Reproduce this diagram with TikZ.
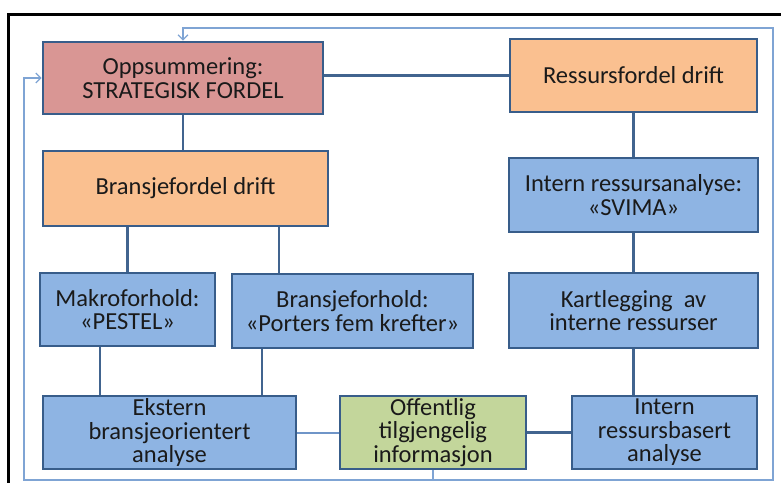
\documentclass[tikz,border=0pt]{standalone}
\usepackage{fontspec}
\setmainfont{Carlito}
\usetikzlibrary{arrows.meta}
\definecolor{boxline}{HTML}{385D8A}
\definecolor{linkline}{HTML}{41648F}
\definecolor{softlink}{HTML}{6F95C8}
\definecolor{loopline}{HTML}{7FA4D4}
\definecolor{redfill}{HTML}{D99694}
\definecolor{orangefill}{HTML}{FAC090}
\definecolor{bluefill}{HTML}{8EB4E3}
\definecolor{greenfill}{HTML}{C3D69B}
\definecolor{txt}{HTML}{1A1A1A}
\tikzset{
  box/.style={draw=boxline, line width=2.6pt, align=center, text=txt,
    font=\fontsize{24.5}{23.5}\selectfont, inner sep=0pt},
  redbox/.style={box, fill=redfill},
  orangebox/.style={box, fill=orangefill},
  bluebox/.style={box, fill=bluefill},
  greenbox/.style={box, fill=greenfill},
  link/.style={draw=linkline, line width=2.2pt},
  softconn/.style={draw=softlink, line width=2pt},
  loop/.style={draw=loopline, line width=1.3pt, -{Straight Barb[length=5pt,width=10pt]}},
}
\begin{document}
\begin{tikzpicture}[x=1pt,y=-1pt]
\useasboundingbox (0,0) rectangle (781,482);
% outer black frame
\draw[line width=3pt] (8,495) -- (8,14) -- (795,14);

% boxes
\node[redbox, minimum width=280, minimum height=72] (opp) at (183,78) {Oppsummering:\\STRATEGISK FORDEL};
\node[orangebox, minimum width=247, minimum height=73] (ress) at (633.5,75.5) {Ressursfordel drift};
\node[orangebox, minimum width=285, minimum height=75] (bf) at (185.5,188.5) {Bransjefordel drift};
\node[bluebox, minimum width=175, minimum height=73] (makro) at (127.5,309.5) {Makroforhold:\\«PESTEL»};
\node[bluebox, minimum width=241, minimum height=74] (bfh) at (352.5,311) {Bransjeforhold:\\«Porters fem krefter»};
\node[bluebox, minimum width=249, minimum height=74] (ira) at (633.5,195) {Intern ressursanalyse:\\«SVIMA»};
\node[bluebox, minimum width=249, minimum height=75] (kart) at (633.5,310.5) {Kartlegging\ \ av\\interne ressurser};
\node[bluebox, minimum width=253, minimum height=73] (ekst) at (169.5,432.5) {Ekstern\\bransjeorientert\\analyse};
\node[greenbox, minimum width=186, minimum height=73] (off) at (433,432.5) {Offentlig\\tilgjengelig\\informasjon};
\node[bluebox, minimum width=185, minimum height=73] (irb) at (664.5,432.5) {Intern\\ressursbasert\\analyse};

% tree connectors
\draw[link] (ress.west) -- (ress.west -| opp.east);
\draw[link] (opp.south) -- (opp.south |- bf.north);
\draw[link] (makro.north) -- (makro.north |- bf.south);
\draw[link] ([xshift=-73.5]bfh.north) -- ([xshift=-73.5]bfh.north |- bf.south);
\draw[link] ([xshift=-27.5]makro.south) -- ([xshift=-27.5]makro.south |- ekst.north);
\draw[link] ([xshift=-90.5]bfh.south) -- ([xshift=-90.5]bfh.south |- ekst.north);
\draw[link] (ress.south) -- (ira.north);
\draw[link] (ira.south) -- (kart.north);
\draw[link] (kart.south) -- (kart.south |- irb.north);
\draw[softconn] (ekst.east) -- (off.west);
\draw[link] (off.east) -- (irb.west);

% feedback loop back to the summary
\coordinate (bl) at (24,480);
\coordinate (br) at (773,480);
\coordinate (tc) at (183,28);
\draw[loop] (off.south) |- (bl) |- (opp.west);
\draw[loop] (off.south) |- (br) |- (tc) -- (opp.north);
\end{tikzpicture}
\end{document}
